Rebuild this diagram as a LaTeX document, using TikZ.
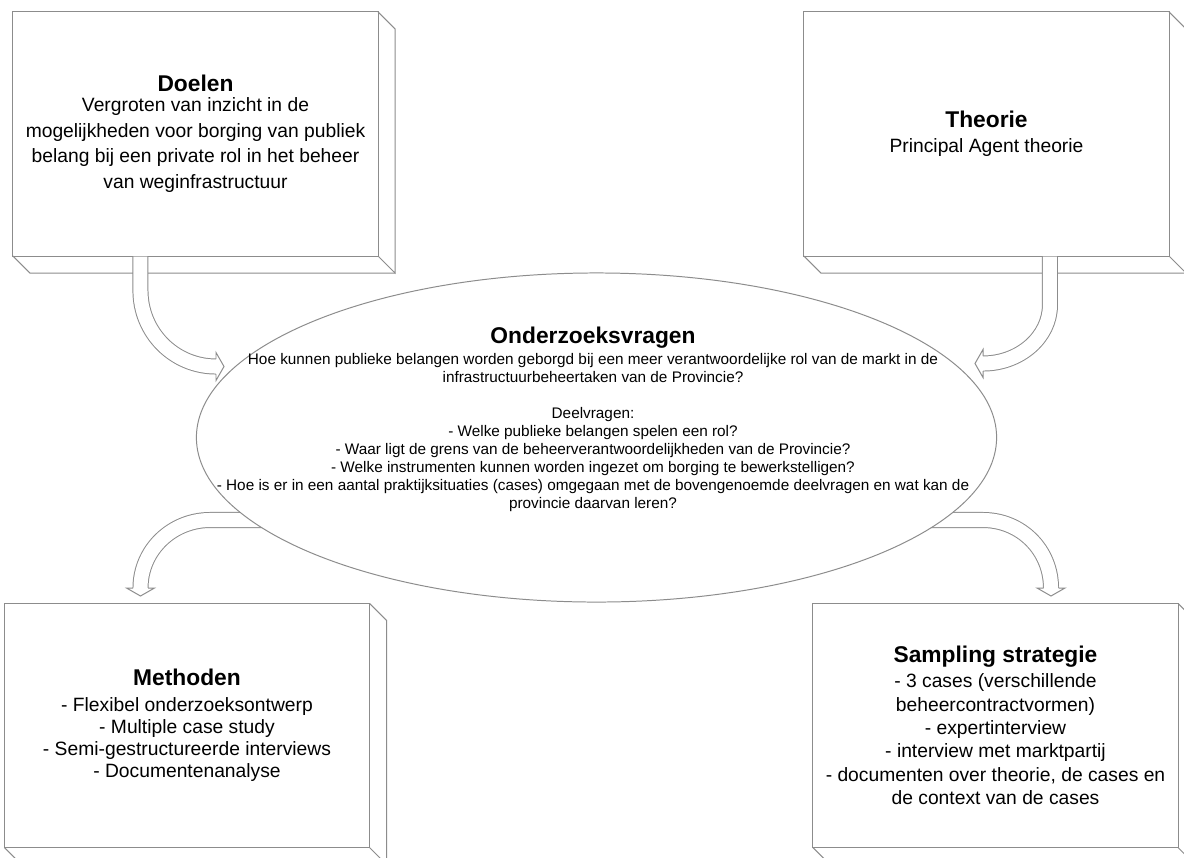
\documentclass[tikz,border=0pt]{standalone}
\usepackage{fontspec}
\setmainfont{Liberation Sans}
\usetikzlibrary{shapes.geometric, positioning, calc}
\definecolor{EdgeGray}{HTML}{8C8C8C}
\newcommand{\ttlfont}{\fontsize{16.2}{19}\selectfont\bfseries}
\newcommand{\boxdepth}[1]{%
  \draw[sideline] (#1.north east) -- ++(17,17) -- ($(#1.south east)+(17,17)$) -- (#1.south east);
  \draw[sideline] (#1.south west) -- ++(17,17) -- ($(#1.south east)+(17,17)$);}
\tikzset{
  pbox/.style={draw=EdgeGray, line width=0.7pt, fill=white, align=center,
    minimum width=9.125cm, minimum height=6.1cm, inner sep=0pt, outer sep=0pt},
  sideline/.style={draw=EdgeGray, line width=0.7pt},
  qell/.style={ellipse, draw=EdgeGray, line width=0.7pt, fill=white,
    minimum width=20cm, minimum height=8.225cm, inner sep=0pt, outer sep=0pt},
  qtext/.style={align=center, inner sep=0pt, font=\fontsize{10.9}{12.8}\selectfont},
  shaft/.style={draw=EdgeGray, line width=0.7pt, double=white, double distance=10pt},
  bhead/.pic={\path[fill=white, draw=EdgeGray, line width=0.7pt]
    (0,7.5) -- (0,14) -- (8,0) -- (0,-14) -- (0,-7.5);},
}

\begin{document}
\begin{tikzpicture}[x=0.025cm, y=-0.025cm]
  \fill[white] (0,0) rectangle (1184,857);
  \useasboundingbox (0,0) rectangle (1184,857);
  \clip (0,0) rectangle (1184,857);

  \node[pbox, font=\fontsize{13.7}{18.3}\selectfont] (doelen) at (195.5,134)
    {{\ttlfont Doelen}\\[-4.5pt]
     Vergroten van inzicht in de\\ mogelijkheden voor borging van publiek\\
     belang bij een private rol in het beheer\\ van weginfrastructuur};
  \node[pbox, font=\fontsize{13.7}{17.6}\selectfont] (theorie) at (986.5,134)
    {{\ttlfont Theorie}\\ Principal Agent theorie};
  \node[pbox, font=\fontsize{13.7}{15.6}\selectfont] (methoden) at (187,725.5)
    {{\ttlfont Methoden}\\[2.7pt]
     - Flexibel onderzoeksontwerp\\ - Multiple case study\\
     - Semi-gestructureerde interviews\\ - Documentenanalyse};
  \node[pbox, font=\fontsize{13.7}{16.6}\selectfont] (sampling) at (995.5,725.5)
    {{\ttlfont Sampling strategie}\\[1.2pt]
     - 3 cases (verschillende\\ beheercontractvormen)\\ - expertinterview\\
     - interview met marktpartij\\ - documenten over theorie, de cases en\\
     de context van de cases};
  \boxdepth{doelen}
  \boxdepth{theorie}
  \boxdepth{methoden}
  \boxdepth{sampling}

  \coordinate (mHead) at (140.5,588);
  \coordinate (sHead) at (1051,588);
  \draw[shaft] (300,520) -- (210,520) .. controls +(-38,0) and +(0,-38) .. (mHead);
  \pic[rotate=-90] at (mHead) {bhead};
  \draw[shaft] (900,520) -- (983,520) .. controls +(38,0) and +(0,-38) .. (sHead);
  \pic[rotate=-90] at (sHead) {bhead};

  \node[qell] (vragen) at (596.5,437.5) {};

  \coordinate (dHead) at (216,366.5);
  \coordinate (tHead) at (983,363.5);
  \draw[shaft] ($(doelen.south west)+(127.5,0.5)$) -- ++(0,34)
    .. controls +(0,42) and +(-42,0) .. (dHead);
  \pic at (dHead) {bhead};
  \draw[shaft] ($(theorie.south west)+(246,0.5)$) -- ++(0,48.5)
    .. controls +(0,32) and +(37,0) .. (tHead);
  \pic[rotate=180] at (tHead) {bhead};

  \node[qtext] (vragenT) at (593,419)
    {{\ttlfont Onderzoeksvragen}\\[2.1pt]
     Hoe kunnen publieke belangen worden geborgd bij een meer verantwoordelijke rol van de markt in de\\
     infrastructuurbeheertaken van de Provincie?\\[12.8pt]
     Deelvragen:\\
     - Welke publieke belangen spelen een rol?\\
     - Waar ligt de grens van de beheerverantwoordelijkheden van de Provincie?\\
     - Welke instrumenten kunnen worden ingezet om borging te bewerkstelligen?\\
     - Hoe is er in een aantal praktijksituaties (cases) omgegaan met de bovengenoemde deelvragen en wat kan de\\
     provincie daarvan leren?};
\end{tikzpicture}
\end{document}
